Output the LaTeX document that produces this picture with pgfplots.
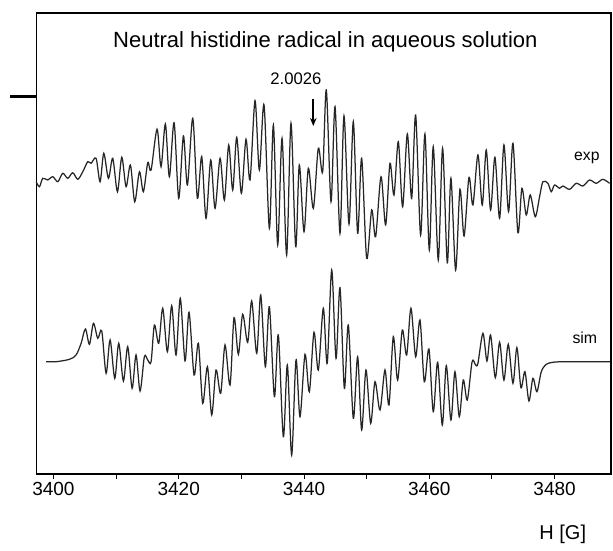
\documentclass[border=0pt]{standalone}
\usepackage{fontspec}
\setmainfont{Liberation Sans}
\usepackage{pgfplots}
\pgfplotsset{compat=1.18}
\usetikzlibrary{arrows.meta}
\begin{document}
\begin{tikzpicture}
\path[use as bounding box] (-36.5pt,-76pt) rectangle (576.5pt,474pt);
\begin{axis}[
  at={(0pt,0pt)}, anchor=south west,
  scale only axis, width=574.5pt, height=461pt,
  xmin=3397.3, xmax=3489.0, ymin=26, ymax=487,
  clip=false,
  axis line style={line width=1.3pt},
  xtick={3400,3420,3440,3460,3480},
  minor xtick={3410,3430,3450,3470},
  xtick pos=left, ytick pos=left,
  tick align=outside,
  major tick length=5pt, minor tick length=5pt,
  tick style={black, line width=1pt},
  ytick=\empty,
  /pgf/number format/1000 sep={},
  /pgf/number format/assume math mode=true,
  tick label style={font=\fontsize{19}{22}\selectfont},
]
\addplot[smooth, black!85, line width=1.25pt] coordinates {
(3397.24,318.3)(3397.77,313.3)(3398.30,321.7)(3399.10,320.0)(3399.90,323.3)(3400.70,318.3)(3401.49,326.7)(3402.29,321.7)(3403.09,327.3)(3403.89,320.7)(3404.69,328.3)(3405.48,338.3)(3406.01,336.7)(3406.81,341.7)(3407.45,318.3)(3408.04,346.7)(3408.78,321.7)(3409.47,341.7)(3410.22,308.3)(3410.91,342.7)(3411.60,313.3)(3412.29,335.0)(3412.98,298.3)(3413.73,328.3)(3414.36,308.3)(3415.06,337.3)(3415.59,330.0)(3416.54,370.7)(3417.18,333.3)(3417.87,376.0)(3418.51,323.3)(3419.26,377.3)(3420.00,301.7)(3420.75,364.0)
(3421.39,315.0)(3422.24,381.7)(3422.98,301.7)(3423.67,343.3)(3424.36,281.7)(3425.11,340.0)(3425.80,291.7)(3426.60,341.7)(3427.29,300.0)(3427.98,355.0)(3428.62,310.0)(3429.26,362.7)(3430.00,306.7)(3430.74,360.7)(3431.38,320.0)(3432.18,399.3)(3432.87,330.0)(3433.62,395.0)(3434.47,271.7)(3435.11,375.0)(3435.80,255.0)(3436.49,361.7)(3437.23,245.0)(3437.92,376.7)(3438.67,253.3)(3439.25,335.0)(3440.00,268.3)(3440.69,331.7)(3441.49,291.7)(3442.28,351.7)(3442.98,328.3)(3443.56,410.0)
(3444.31,298.3)(3444.95,393.3)(3445.74,266.7)(3446.38,384.0)(3447.18,276.0)(3447.87,378.3)(3448.56,266.7)(3449.20,341.7)(3450.00,241.7)(3450.80,290.0)(3451.43,263.3)(3452.29,323.3)(3453.03,275.0)(3453.72,336.7)(3454.36,305.0)(3455.05,358.3)(3455.74,293.3)(3456.49,366.0)(3457.18,301.7)(3457.82,385.0)(3458.61,265.0)(3459.30,366.0)(3460.00,250.0)(3460.63,353.3)(3461.43,240.0)(3462.12,351.7)(3462.87,237.3)(3463.45,321.7)(3464.20,230.0)(3464.89,310.7)(3465.55,264.0)
(3466.33,322.7)(3466.96,295.0)(3467.76,345.0)(3468.45,295.0)(3469.09,350.0)(3469.78,290.0)(3470.47,342.7)(3471.22,281.7)(3471.91,355.0)(3472.65,288.3)(3473.35,356.7)(3474.14,267.3)(3474.78,311.7)(3475.47,285.0)(3476.11,305.0)(3476.91,283.3)(3477.60,303.3)(3478.13,318.3)(3478.93,316.7)(3479.46,308.3)(3479.99,315.0)(3480.79,311.7)(3481.32,314.0)(3482.39,310.7)(3483.45,316.7)(3484.51,314.0)(3485.58,320.0)(3486.64,316.7)(3487.70,320.7)(3488.77,316.7)
};
\addplot[smooth, black!85, line width=1.25pt] coordinates {
(3398.84,138.3)(3400.43,138.3)(3402.56,140.7)(3403.62,145.0)(3404.42,156.7)(3405.11,171.0)(3405.75,155.7)(3406.39,176.7)(3407.08,161.7)(3407.72,169.0)(3408.41,126.7)(3409.05,160.0)(3409.79,121.7)(3410.43,156.7)(3411.17,119.0)(3411.86,153.3)(3412.56,111.7)(3413.19,145.0)(3413.83,109.0)(3414.52,143.3)(3415.06,140.0)(3415.59,138.3)(3416.12,175.0)(3416.81,156.7)(3417.45,191.7)(3418.19,148.3)(3418.88,194.3)(3419.57,145.0)(3420.25,201.7)
(3421.01,139.0)(3421.65,187.7)(3422.45,125.0)(3423.14,156.7)(3423.83,96.7)(3424.58,133.3)(3425.27,85.0)(3425.96,130.0)(3426.70,106.7)(3427.39,155.0)(3428.19,115.0)(3428.83,182.3)(3429.52,145.7)(3430.21,185.7)(3431.01,157.7)(3431.65,199.0)(3432.45,146.7)(3433.09,205.0)(3433.83,133.3)(3434.47,193.3)(3435.27,103.3)(3435.90,165.0)(3436.70,63.3)(3437.34,135.0)(3438.03,45.0)(3438.72,140.0)(3439.36,83.3)(3440.16,145.7)(3440.85,108.3)(3441.59,167.7)(3442.28,130.0)(3443.08,191.7)(3443.70,136.7)
(3444.42,230.0)(3445.11,141.7)(3445.74,212.3)(3446.44,111.7)(3447.07,175.0)(3447.87,81.7)(3448.56,143.3)(3449.20,70.0)(3449.89,130.0)(3450.64,76.7)(3451.33,118.3)(3452.13,90.0)(3452.92,130.0)(3453.56,95.0)(3454.25,163.3)(3454.94,120.0)(3455.69,170.0)(3456.38,145.0)(3457.07,191.7)(3457.82,143.3)(3458.51,180.0)(3459.20,118.3)(3459.94,151.0)(3460.63,88.3)(3461.33,137.7)(3462.07,75.0)(3462.71,134.3)(3463.45,80.0)(3464.09,128.3)(3464.78,83.3)(3465.42,120.0)(3466.06,100.0)(3466.83,138.3)
(3467.39,135.0)(3467.76,136.7)(3468.56,166.7)(3469.20,139.0)(3469.78,165.0)(3470.53,122.3)(3471.22,157.7)(3471.91,120.0)(3472.60,155.7)(3473.35,116.7)(3473.98,152.3)(3474.62,112.3)(3475.26,128.3)(3475.90,99.0)(3476.54,121.7)(3477.18,108.3)(3477.87,128.3)(3478.66,135.7)(3479.73,137.7)(3481.32,138.3)(3483.98,138.3)(3488.90,138.3)
};
\draw[line width=3pt] (axis cs:3397.3,404) -- ++(-26pt,0pt);
\node[anchor=base, font=\fontsize{22}{26}\selectfont] at (axis cs:3443.41,452.3) {Neutral histidine radical in aqueous solution};
\node[anchor=base, font=\fontsize{16.7}{20}\selectfont] at (axis cs:3438.7,416) {2.0026};
\draw[line width=1.8pt, -{Stealth[length=8pt,width=6.5pt]}] (axis cs:3441.48,401) -- (axis cs:3441.48,374);
\node[anchor=base, font=\fontsize{15.7}{19}\selectfont] at (axis cs:3485.15,339.5) {exp};
\node[anchor=base, font=\fontsize{15.9}{19}\selectfont] at (axis cs:3484.83,157) {sim};
\node[anchor=base, font=\fontsize{20}{24}\selectfont] at (axis cs:3481.3,-39) {H [G]};
\end{axis}
\end{tikzpicture}
\end{document}
